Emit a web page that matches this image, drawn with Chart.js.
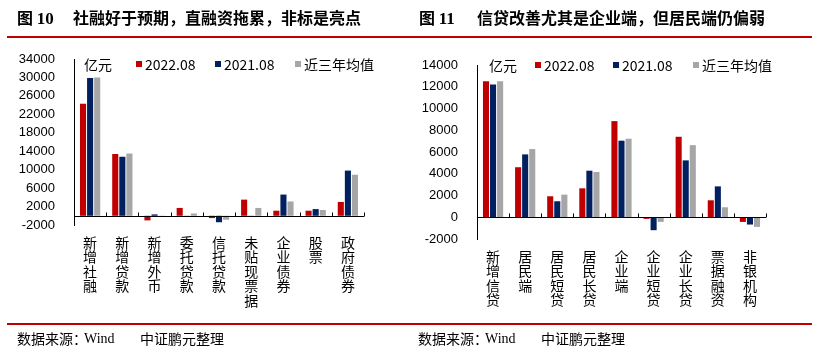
<!DOCTYPE html>
<html><head><meta charset="utf-8">
<script src="https://cdn.jsdelivr.net/npm/chart.js@4"></script>
<style>
html,body{margin:0;padding:0;background:#fff;}
#wrap{position:relative;width:820px;height:354px;overflow:hidden;font-family:"Noto Sans CJK SC",sans-serif;color:#000;}
canvas{position:absolute;top:0;}
.t{position:absolute;white-space:nowrap;}
.title{font-size:16px;font-weight:700;top:6px;line-height:22px;}
.num{font-family:"Liberation Serif",serif;font-weight:700;font-size:17px;}
.line{position:absolute;left:7px;width:805px;height:2px;background:#C00000;}
.src{font-size:14px;top:328px;line-height:20px;}
.wind{font-family:"Liberation Serif",serif;font-size:14px;top:329px;}
.leg{font-size:14px;line-height:18px;}
.sq{position:absolute;width:6px;height:6px;}
</style></head>
<body><div id="wrap">
<canvas id="cL" width="410" height="354" style="left:0"></canvas>
<canvas id="cR" width="410" height="354" style="left:410px"></canvas>

<div class="t title" style="left:17px">图 <span class="num">10</span></div>
<div class="t title" style="left:73px">社融好于预期，直融资拖累，非标是亮点</div>
<div class="t title" style="left:419px">图 <span class="num">11</span></div>
<div class="t title" style="left:477px">信贷改善尤其是企业端，但居民端仍偏弱</div>
<div class="line" style="top:36px"></div>
<div class="line" style="top:323px"></div>

<div class="t src" style="left:17px">数据来源：</div>
<div class="t src wind" style="left:84px">Wind</div>
<div class="t src" style="left:140px">中证鹏元整理</div>
<div class="t src" style="left:418px">数据来源：</div>
<div class="t src wind" style="left:485px">Wind</div>
<div class="t src" style="left:541px">中证鹏元整理</div>

<div id="legends"></div>
</div>
<script>
const catsL = ['新增社融','新增贷款','新增外币','委托贷款','信托贷款','未贴现票据','企业债券','股票','政府债券'];
const L2022 = [24300, 13400, -1000, 1700, -500, 3500, 1100, 1100, 3000];
const L2021 = [29900, 12800, 300, -30, -1400, 30, 4600, 1450, 9800];
const Lavg  = [30000, 13500, 50, 500, -850, 1700, 3100, 1250, 8900];
const ticksL = [-2000, 34000, 4000];

const catsR = ['新增信贷','居民端','居民短贷','居民长贷','企业端','企业短贷','企业长贷','票据融资','非银机构'];
const R2022 = [12500, 4600, 1930, 2660, 8840, -150, 7400, 1560, -430];
const R2021 = [12200, 5780, 1470, 4280, 7040, -1190, 5230, 2840, -670];
const Ravg  = [12500, 6270, 2080, 4160, 7220, -430, 6630, 920, -890];
const ticksR = [-2000, 14000, 2000];

const seriesNames = ['2022.08','2021.08','近三年均值'];
const unit = '亿元';
const colors = ['#C00000','#002060','#A6A6A6'];

// legends (HTML text)
const legWrap = document.getElementById('legends');
function addLegend(unitX, y, xs){
  const u = document.createElement('div');
  u.className='t leg'; u.style.left=unitX+'px'; u.style.top=(y-9)+'px'; u.textContent=unit;
  legWrap.appendChild(u);
  xs.forEach((x,i)=>{
    const s=document.createElement('div'); s.className='sq';
    s.style.left=x+'px'; s.style.top=(y-3)+'px'; s.style.background=colors[i];
    legWrap.appendChild(s);
    const t=document.createElement('div'); t.className='t leg';
    t.style.left=(x+9)+'px'; t.style.top=(y-9)+'px'; t.textContent=seriesNames[i];
    legWrap.appendChild(t);
  });
}
addLegend(84, 64, [136, 215, 295]);
addLegend(489, 65, [535, 613, 693]);

const axisDeco = {
  id:'axisDeco',
  afterDatasetsDraw(chart){
    const {ctx, chartArea, scales:{x,y}} = chart;
    const y0 = Math.round(y.getPixelForValue(0)) + 0.5;
    const n = chart.data.labels.length;
    const w = (chart.chartArea.right - chart.chartArea.left)/n;
    ctx.save();
    ctx.strokeStyle = '#000'; ctx.lineWidth = 1;
    ctx.beginPath();
    ctx.moveTo(chartArea.left, y0); ctx.lineTo(chartArea.right, y0);
    for(let i=1;i<=n;i++){
      const xp = Math.round(chartArea.left + i*w) + 0.5;
      ctx.moveTo(xp, y0); ctx.lineTo(xp, y0-4);
    }
    ctx.stroke();
    ctx.restore();
  }
};

function makeChart(id, cats, s1, s2, s3, tk, area){
  const [mn, mx, st] = tk;
  return new Chart(document.getElementById(id), {
    type:'bar',
    data:{
      labels: cats.map(c => c.split('')),
      datasets:[s1,s2,s3].map((d,i)=>({label:seriesNames[i], data:d, backgroundColor:colors[i], borderWidth:0,
        categoryPercentage:0.66, barPercentage:0.86}))
    },
    options:{
      responsive:false, devicePixelRatio:1, animation:false,
      layout:{padding:{left:0, top:area.top, right:410-area.right, bottom:0}},
      plugins:{legend:{display:false}, tooltip:{enabled:false}},
      scales:{
        x:{
          grid:{display:false, drawTicks:false}, border:{display:false},
          ticks:{autoSkip:false, maxRotation:0, minRotation:0, padding:10, color:'#000',
            font:{family:'"Noto Sans CJK SC", sans-serif', size:14, lineHeight:'14.5px'}},
          afterFit(s){ s.height = 354 - area.bottom; }
        },
        y:{
          min:mn, max:mx,
          grid:{display:false, drawTicks:false},
          border:{display:true, color:'#000', width:1},
          ticks:{stepSize:st, autoSkip:false, padding:19, color:'#000',
            font:{family:'"Liberation Sans", Arial, sans-serif', size:13},
            callback:v => v},
          afterFit(s){ s.width = area.left; }
        }
      }
    },
    plugins:[axisDeco]
  });
}

makeChart('cL', catsL, L2022, L2021, Lavg, ticksL, {left:74, top:59, right:364, bottom:225});
makeChart('cR', catsR, R2022, R2021, Ravg, ticksR, {left:67, top:65, right:356, bottom:239});
</script>
</body></html>
